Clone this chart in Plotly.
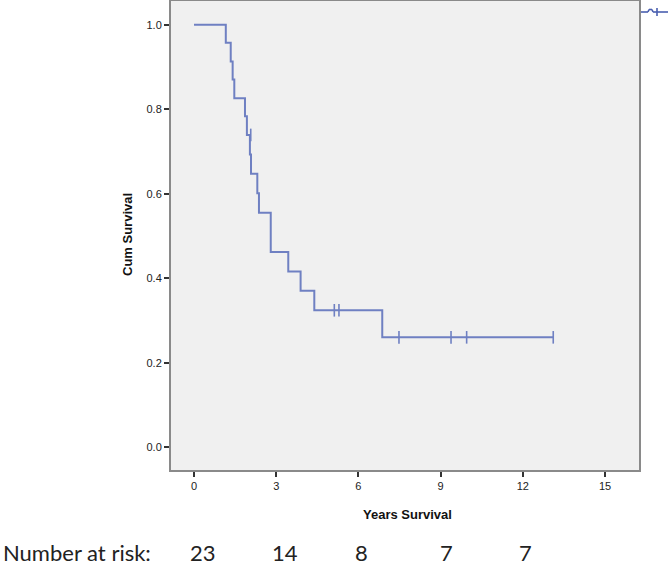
import plotly.graph_objects as go

# Kaplan-Meier step data
step_times = [0, 1.16, 1.34, 1.41, 1.47, 1.86, 1.93, 2.04, 2.08, 2.31, 2.37, 2.80, 3.44, 3.89, 4.39, 6.87, 13.11]
step_surv = [1.0, 0.957, 0.913, 0.870, 0.826, 0.783, 0.739, 0.693, 0.647, 0.601, 0.555, 0.462, 0.416, 0.370, 0.324, 0.260, 0.260]

censor_times = [2.07, 5.12, 5.29, 7.48, 9.38, 9.95, 13.11]
censor_surv = [0.739, 0.324, 0.324, 0.260, 0.260, 0.260, 0.260]

x_ticks = [0, 3, 6, 9, 12, 15]
y_ticks = [0.0, 0.2, 0.4, 0.6, 0.8, 1.0]
y_tick_labels = ["0.0", "0.2", "0.4", "0.6", "0.8", "1.0"]

risk_label = "Number at risk:"
risk_numbers = ["23", "14", "8", "7", "7"]

line_color = "#6f80c2"

fig = go.Figure()
fig.add_trace(go.Scatter(
    x=step_times, y=step_surv, mode="lines",
    line=dict(shape="hv", color=line_color, width=2),
    showlegend=False, hoverinfo="skip"))
fig.add_trace(go.Scatter(
    x=censor_times, y=censor_surv, mode="markers",
    marker=dict(symbol="line-ns", size=9, line=dict(color=line_color, width=1.6)),
    showlegend=False, hoverinfo="skip"))

axis_common = dict(
    showgrid=False, zeroline=False, showline=True, linecolor="#8a8a8a", linewidth=2,
    mirror=True, ticks="outside", ticklen=5, tickcolor="#333333", tickwidth=1.5,
    tickfont=dict(family="Liberation Sans, Arial", size=11, color="#222222"),
)

fig.update_xaxes(range=[-0.84, 16.24], tickvals=x_ticks, **axis_common)
fig.update_yaxes(range=[-0.054, 1.056], tickvals=y_ticks, ticktext=y_tick_labels, **axis_common)

W, H = 668, 568
L, R, T, B = 171, 29, 1, 98
pw, ph = W - L - R, H - T - B

def px_to_paper(px, py):
    return (px - L) / pw, (H - B - py) / ph

ann = []
cx, cy = px_to_paper(127, 235)
ann.append(dict(text="<b>Cum Survival</b>", x=cx, y=cy, xref="paper", yref="paper",
                xanchor="center", yanchor="middle",
                showarrow=False, textangle=-90,
                font=dict(family="Liberation Sans, Arial", size=13, color="#111111")))
cx, cy = px_to_paper(407, 514)
ann.append(dict(text="<b>Years Survival</b>", x=cx, y=cy, xref="paper", yref="paper",
                xanchor="center", yanchor="middle",
                showarrow=False,
                font=dict(family="Liberation Sans, Arial", size=13, color="#111111")))
cx, cy = px_to_paper(1, 552)
ann.append(dict(text=risk_label, x=cx, y=cy, xref="paper", yref="paper",
                xanchor="left", yanchor="middle",
                showarrow=False, font=dict(family="Lato, Open Sans", size=22, color="#222222")))
for px_, num in zip([203, 285, 361, 446, 525], risk_numbers):
    cx, cy = px_to_paper(px_, 552)
    ann.append(dict(text=num, x=cx, y=cy, xref="paper", yref="paper",
                    xanchor="center", yanchor="middle",
                    showarrow=False, font=dict(family="Lato, Open Sans", size=22, color="#222222")))

# cropped legend fragment at top right
def seg(x0, y0, x1, y1, w=1.6):
    a0, b0 = px_to_paper(x0, y0)
    a1, b1 = px_to_paper(x1, y1)
    return dict(type="line", xref="paper", yref="paper", x0=a0, y0=b0, x1=a1, y1=b1,
                line=dict(color="#4a5fb0", width=w))

shapes = [
    seg(641, 12, 648, 12), seg(648, 12, 649, 9.5), seg(649, 9.5, 652, 9.5),
    seg(652, 9.5, 653, 12), seg(653, 12, 668, 12), seg(657, 8, 657, 16),
]

fig.update_layout(
    template="none",
    width=W, height=H,
    margin=dict(l=L, r=R, t=T, b=B),
    paper_bgcolor="white", plot_bgcolor="#f0f0f0",
    annotations=ann, shapes=shapes,
)

fig.write_html("out.html", config={"displayModeBar": False},
               post_script="document.body.style.margin='0';document.body.style.overflow='hidden';")
